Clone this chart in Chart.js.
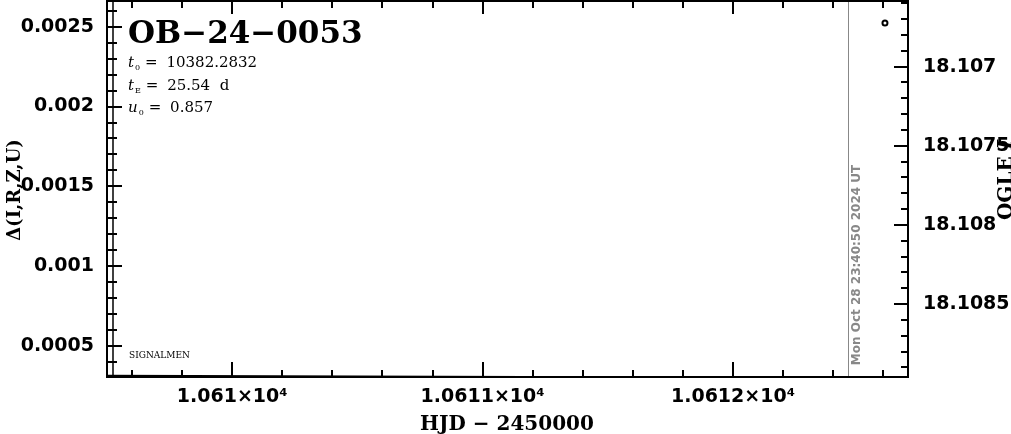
<!DOCTYPE html>
<html>
<head>
<meta charset="utf-8">
<script src="https://cdn.jsdelivr.net/npm/chart.js@4.4.0/dist/chart.umd.min.js"></script>
<style>
  html, body { margin: 0; padding: 0; background: #fff; overflow: hidden; }
  #wrap { position: relative; width: 1011px; height: 434px; }
</style>
</head>
<body>
<div id="wrap"><canvas id="lc" width="1011" height="434"></canvas></div>
<script>
// Axis ticks and ranges
const xTicks = [10610, 10611, 10612];
const deltaTicks = [0.0005, 0.001, 0.0015, 0.002, 0.0025];
const magTicks = [18.107, 18.1075, 18.108, 18.1085];
const xRange = [10609.5, 10612.699];
const deltaRange = [0.000306, 0.002661];
const magRange = [18.106585, 18.108961];

// OGLE I photometry
const ogleHjd = [10612.607];
const ogleMag = [18.106724];

// model curve (delta)
const modelHjd = [10609.5, 10610.5, 10611.5, 10612.5];
const modelDelta = [0.000316, 0.000311, 0.000306, 0.000301];

// "now" marker and labels
const nowHjd = 10612.459;
const nowText = 'Mon Oct 28 23:40:50 2024 UT';
const eventName = 'OB\u221224\u22120053';
const params = [['t', '0', '10382.2832'], ['t', 'E', '25.54 d'], ['u', '0', '0.857']];

const tickFont = { family: 'DejaVu Sans', size: 19, weight: 'bold' };

// no extra padding for edge labels, we want the plot box fixed
function noPad(s) {
  s.paddingTop = 0; s.paddingBottom = 0; s.paddingLeft = 0; s.paddingRight = 0;
}

// draws the frame, inward ticks and the free texts
const decorPlugin = {
  id: 'decor',
  afterDraw(chart) {
    const ctx = chart.ctx;
    const a = chart.chartArea;
    const xs = chart.scales.x, yl = chart.scales.y, yr = chart.scales.y2;
    ctx.save();

    // now marker
    const nx = Math.round(xs.getPixelForValue(nowHjd)) + 0.5;
    ctx.strokeStyle = '#888';
    ctx.lineWidth = 1;
    ctx.beginPath(); ctx.moveTo(nx, a.top); ctx.lineTo(nx, a.bottom); ctx.stroke();

    ctx.strokeStyle = '#000';
    ctx.lineWidth = 2;
    ctx.strokeRect(a.left, a.top, a.right - a.left, a.bottom - a.top);
    ctx.lineWidth = 1.5;
    ctx.beginPath(); ctx.moveTo(a.left + 6, a.top); ctx.lineTo(a.left + 6, a.bottom); ctx.stroke();

    // x ticks, bottom and top
    ctx.lineWidth = 2;
    for (let k = Math.ceil(xRange[0] * 5); k <= Math.floor(xRange[1] * 5); k++) {
      const px = Math.round(xs.getPixelForValue(k / 5));
      const len = k % 5 === 0 ? 15 : 7;
      ctx.beginPath();
      ctx.moveTo(px, a.bottom); ctx.lineTo(px, a.bottom - len);
      ctx.moveTo(px, a.top); ctx.lineTo(px, a.top + (k % 5 === 0 ? 13 : 7));
      ctx.stroke();
    }
    // left ticks
    for (let k = Math.ceil(deltaRange[0] * 1e4); k <= Math.floor(deltaRange[1] * 1e4); k++) {
      const py = Math.round(yl.getPixelForValue(k / 1e4));
      ctx.beginPath(); ctx.moveTo(a.left, py); ctx.lineTo(a.left + (k % 5 === 0 ? 15 : 10), py); ctx.stroke();
    }
    // right ticks
    for (let k = Math.ceil(magRange[0] * 1e4); k <= Math.floor(magRange[1] * 1e4); k++) {
      const py = Math.round(yr.getPixelForValue(k / 1e4));
      ctx.beginPath(); ctx.moveTo(a.right, py); ctx.lineTo(a.right - (k % 5 === 0 ? 14 : 7), py); ctx.stroke();
    }

    ctx.fillStyle = '#000';
    // event name
    ctx.font = 'bold 31px "DejaVu Serif"';
    ctx.textAlign = 'left';
    ctx.textBaseline = 'alphabetic';
    ctx.fillText(eventName, 128, 43);

    // parameters
    params.forEach((p, i) => {
      const y = 67 + i * 22.5;
      let x = 128;
      ctx.font = 'italic 15px "DejaVu Serif"';
      ctx.fillText(p[0], x, y);
      x += ctx.measureText(p[0]).width + 1;
      ctx.font = '8px "DejaVu Serif"';
      ctx.fillText(p[1], x, y + 3);
      x += ctx.measureText(p[1]).width + 5;
      ctx.font = '15px "DejaVu Serif"';
      ctx.fillText('= ', x, y);
      x += ctx.measureText('= ').width + 4;
      ctx.fillText(p[2].replace(' ', '  '), x, y);
    });

    ctx.font = '9px "DejaVu Serif"';
    ctx.fillText('SIGNALMEN', 129, 358);

    // axis titles
    ctx.textAlign = 'center';
    ctx.textBaseline = 'middle';
    ctx.font = 'bold 20px "DejaVu Serif"';
    ctx.fillText('HJD \u2212 2450000', 507, 425);

    ctx.save();
    ctx.translate(15, 190);
    ctx.rotate(-Math.PI / 2);
    ctx.font = 'bold 18px "DejaVu Serif"';
    ctx.fillText('\u0394(I,R,Z,U)', 0, 0);
    ctx.restore();

    ctx.save();
    ctx.translate(1007, 180);
    ctx.rotate(-Math.PI / 2);
    ctx.font = 'bold 20px "DejaVu Serif"';
    const w1 = ctx.measureText('OGLE ').width;
    ctx.font = 'bold italic 20px "DejaVu Serif"';
    const w2 = ctx.measureText('I').width;
    ctx.textAlign = 'left';
    ctx.font = 'bold 20px "DejaVu Serif"';
    ctx.fillText('OGLE ', -(w1 + w2) / 2, 0);
    ctx.font = 'bold italic 20px "DejaVu Serif"';
    ctx.fillText('I', -(w1 + w2) / 2 + w1, 0);
    ctx.restore();

    ctx.save();
    ctx.translate(857, 265);
    ctx.rotate(-Math.PI / 2);
    ctx.fillStyle = '#888';
    ctx.font = 'bold 12px "DejaVu Sans"';
    ctx.fillText(nowText, 0, 0);
    ctx.restore();

    ctx.restore();
  }
};

new Chart(document.getElementById('lc'), {
  type: 'scatter',
  data: {
    datasets: [
      {
        label: 'model',
        data: modelHjd.map((x, i) => ({ x: x, y: modelDelta[i] })),
        showLine: true,
        borderColor: '#000',
        borderWidth: 1.5,
        pointRadius: 0,
        yAxisID: 'y'
      },
      {
        label: 'OGLE I',
        data: ogleHjd.map((x, i) => ({ x: x, y: ogleMag[i] })),
        borderColor: '#000',
        backgroundColor: '#fff',
        borderWidth: 2,
        pointRadius: 2.5,
        yAxisID: 'y2'
      }
    ]
  },
  options: {
    responsive: false,
    animation: false,
    devicePixelRatio: 1,
    layout: { autoPadding: false, padding: { top: 1, left: 0, right: 0, bottom: 0 } },
    plugins: { legend: { display: false }, tooltip: { enabled: false } },
    scales: {
      x: {
        type: 'linear',
        min: xRange[0],
        max: xRange[1],
        border: { display: false },
        grid: { display: false, drawTicks: false },
        afterBuildTicks: s => { s.ticks = xTicks.map(v => ({ value: v })); },
        afterFit: s => { s.height = 57; noPad(s); },
        ticks: {
          color: '#000',
          font: tickFont,
          padding: 9,
          maxRotation: 0,
          callback: v => String(+(v / 1e4).toFixed(6)) + '\u00d710\u2074'
        }
      },
      y: {
        type: 'linear',
        position: 'left',
        min: deltaRange[0],
        max: deltaRange[1],
        border: { display: false },
        grid: { display: false, drawTicks: false },
        afterBuildTicks: s => { s.ticks = deltaTicks.map(v => ({ value: v })); },
        afterFit: s => { s.width = 107; noPad(s); },
        ticks: { color: '#000', font: tickFont, padding: 13, callback: v => String(v) }
      },
      y2: {
        type: 'linear',
        position: 'right',
        reverse: true,
        min: magRange[0],
        max: magRange[1],
        border: { display: false },
        grid: { display: false, drawTicks: false },
        afterBuildTicks: s => { s.ticks = magTicks.map(v => ({ value: v })); },
        afterFit: s => { s.width = 103; noPad(s); },
        ticks: { color: '#000', font: tickFont, padding: 15, callback: v => String(v) }
      }
    }
  },
  plugins: [decorPlugin]
});
</script>
</body>
</html>
